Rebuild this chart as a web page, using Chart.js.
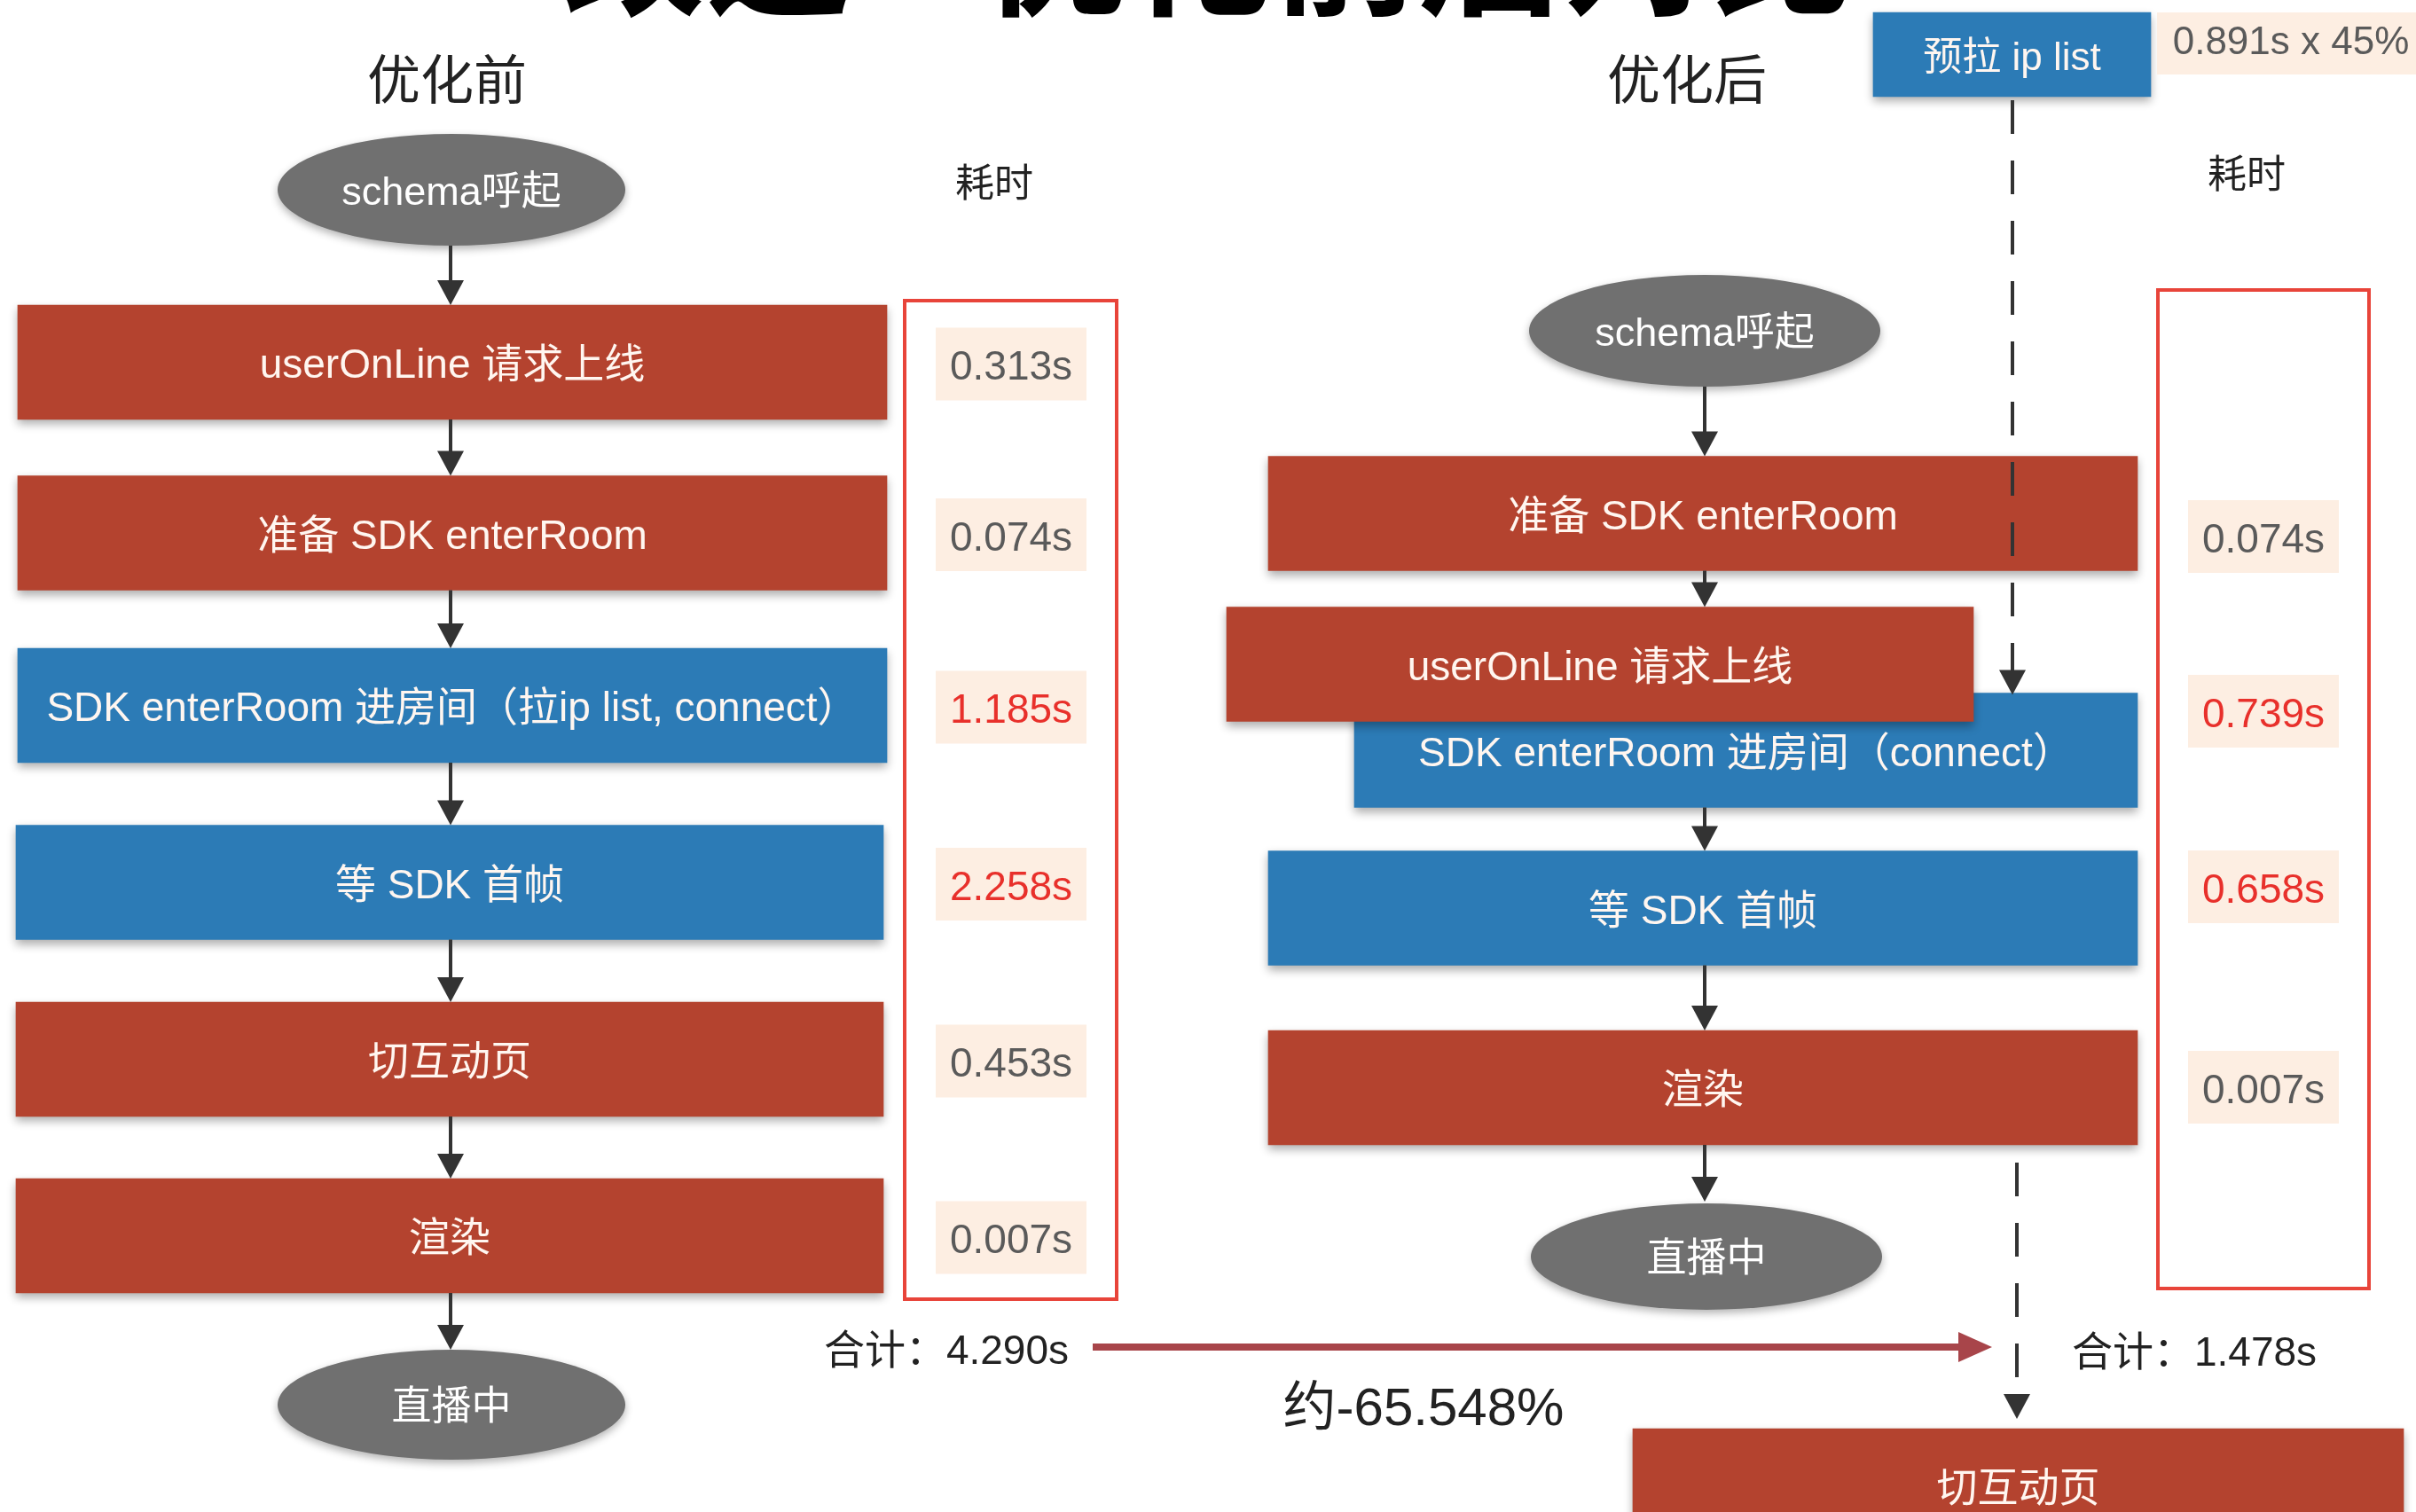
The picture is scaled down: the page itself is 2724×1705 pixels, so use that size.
<!DOCTYPE html>
<html><head><meta charset="utf-8">
<script src="https://cdn.jsdelivr.net/npm/chart.js@4.4.1/dist/chart.umd.min.js"></script>
<style>html,body{margin:0;padding:0;background:#fff;overflow:hidden}canvas{display:block}</style>
</head><body>
<canvas id="c" width="2724" height="1705" style="width:2724px;height:1705px"></canvas>
<script>
// ---------------- data ----------------
const pageTitle = '改造—优化前后对比';
const panelTitles = ['优化前', '优化后'];
const costHeader = '耗时';
const startLabel = 'schema呼起';
const endLabel = '直播中';
const totalPrefix = '合计：';
const changePrefix = '约';

const beforeSteps = ['userOnLine 请求上线', '准备 SDK enterRoom', 'SDK enterRoom 进房间（拉ip list, connect）', '等 SDK 首帧', '切互动页', '渲染'];
const beforeKinds = ['server', 'server', 'sdk', 'sdk', 'server', 'server'];
const beforeTimes = [0.313, 0.074, 1.185, 2.258, 0.453, 0.007];
const beforeHot = [false, false, true, true, false, false];
const beforeTotal = 4.290;

const afterSteps = ['准备 SDK enterRoom', 'userOnLine 请求上线', 'SDK enterRoom 进房间（connect）', '等 SDK 首帧', '渲染', '切互动页'];
const afterKinds = ['server', 'server', 'sdk', 'sdk', 'server', 'server'];
const afterTimes = [0.074, 0.739, 0.658, 0.007];
const afterHot = [false, true, true, false];
const afterTotal = 1.478;

const preloadStep = '预拉 ip list';
const preloadTime = 0.891;
const preloadShare = 45;
const changePct = -65.548;

// ---------------- layout (scale units, 1 unit = 1 px) ----------------
const W = 2724, H = 1705;
const BOX_H = 129;
const leftBoxX = [[20, 1000], [20, 1000], [20, 1000], [18, 996], [18, 996], [18, 996]];
const leftBoxY = [408.5, 601, 795.5, 995, 1194.5, 1393.5];
const rightBoxX = [[1430, 2410], [1383, 2225], [1527, 2410], [1430, 2410], [1430, 2410], [1841, 2710]];
const rightBoxY = [579, 749, 846, 1024, 1226.5, 1675.5];
const rightDrawOrder = [5, 4, 3, 0, 2, 1]; // later = on top
const preloadBox = { x: [2112, 2425], y: 61.5, h: 95 };

const COLORS = {
  server: '#b4432f', sdk: '#2c7bb6', node: '#707070', text: '#222222',
  boxText: '#fff6f0', value: '#5a5a5a', hot: '#e8302b', frame: '#e8443a',
  valueBg: '#fdeee2', arrow: '#333333', bigArrow: '#a8454a'
};
const FONT = '"Liberation Sans", "Noto Sans CJK SC", sans-serif';
const TEXT_DY = 5;

// ---------------- datasets ----------------
const leftData = beforeSteps.map((s, i) => ({ x: leftBoxX[i], y: leftBoxY[i] }));
const rightData = rightDrawOrder.map(i => ({ x: rightBoxX[i], y: rightBoxY[i] }));

const datasets = [
  { label: preloadStep, data: [{ x: preloadBox.x, y: preloadBox.y }], backgroundColor: COLORS.sdk, barThickness: preloadBox.h, steps: [preloadStep] },
  { label: '优化后', data: rightData, backgroundColor: rightDrawOrder.map(i => COLORS[afterKinds[i]]), barThickness: BOX_H, steps: rightDrawOrder.map(i => afterSteps[i]) },
  { label: '优化前', data: leftData, backgroundColor: beforeKinds.map(k => COLORS[k]), barThickness: BOX_H, steps: beforeSteps }
];

// ---------------- drawing helpers ----------------
function text(ctx, s, x, y, size, color, align, weight) {
  ctx.save();
  ctx.font = (weight || 'normal') + ' ' + size + 'px ' + FONT;
  ctx.fillStyle = color;
  ctx.textAlign = align || 'center';
  ctx.textBaseline = 'middle';
  ctx.fillText(s, x, y + TEXT_DY);
  ctx.restore();
}
function vArrow(ctx, x, y0, y1, dashed) {
  const head = 28, hw = 15;
  ctx.save();
  ctx.strokeStyle = COLORS.arrow; ctx.fillStyle = COLORS.arrow; ctx.lineWidth = 4;
  if (dashed) ctx.setLineDash([38, 30]);
  ctx.beginPath(); ctx.moveTo(x, y0); ctx.lineTo(x, y1 - head + 2); ctx.stroke();
  ctx.setLineDash([]);
  ctx.beginPath(); ctx.moveTo(x - hw, y1 - head); ctx.lineTo(x + hw, y1 - head); ctx.lineTo(x, y1); ctx.closePath(); ctx.fill();
  ctx.restore();
}
function ellipse(ctx, cx, cy, rx, ry, label) {
  ctx.save();
  ctx.shadowColor = 'rgba(0,0,0,0.30)'; ctx.shadowBlur = 10; ctx.shadowOffsetY = 4;
  ctx.fillStyle = COLORS.node;
  ctx.beginPath(); ctx.ellipse(cx, cy, rx, ry, 0, 0, Math.PI * 2); ctx.fill();
  ctx.restore();
  text(ctx, label, cx, cy, 45, '#ffffff');
}
function valueTag(ctx, s, cx, cy, hot) {
  ctx.save();
  ctx.fillStyle = COLORS.valueBg;
  ctx.fillRect(cx - 85, cy - 41, 170, 82);
  ctx.restore();
  text(ctx, s, cx, cy, 46, hot ? COLORS.hot : COLORS.value);
}
const fmt = v => v.toFixed(3) + 's';

const flowPlugin = {
  id: 'flow',
  beforeDatasetDraw(chart) {
    const ctx = chart.ctx;
    ctx.save();
    ctx.shadowColor = 'rgba(0,0,0,0.33)'; ctx.shadowBlur = 10; ctx.shadowOffsetY = 5;
  },
  afterDatasetDraw(chart) { chart.ctx.restore(); },
  afterDatasetsDraw(chart) {
    const ctx = chart.ctx;
    const sx = v => chart.scales.x.getPixelForValue(v);
    const sy = v => chart.scales.y.getPixelForValue(v);

    // labels inside bars
    chart.data.datasets.forEach((ds, di) => {
      const meta = chart.getDatasetMeta(di);
      meta.data.forEach((el, j) => {
        const p = el.getProps(['x', 'y', 'base'], true);
        text(ctx, ds.steps[j], (p.x + p.base) / 2, p.y, di === 0 ? 44 : 46, COLORS.boxText);
      });
    });

    // ---- left panel ----
    const lx = sx(508);
    text(ctx, panelTitles[0], sx(504), sy(90), 60, COLORS.text);
    ellipse(ctx, sx(509), sy(214), 196, 63, startLabel);
    vArrow(ctx, lx, sy(277), sy(leftBoxY[0] - BOX_H / 2));
    for (let i = 0; i < leftBoxY.length - 1; i++) {
      vArrow(ctx, lx, sy(leftBoxY[i] + BOX_H / 2), sy(leftBoxY[i + 1] - BOX_H / 2));
    }
    vArrow(ctx, lx, sy(leftBoxY[5] + BOX_H / 2), sy(1522));
    ellipse(ctx, sx(509), sy(1584), 196, 62, endLabel);

    text(ctx, costHeader, sx(1121), sy(205), 44, COLORS.text);
    ctx.save(); ctx.strokeStyle = COLORS.frame; ctx.lineWidth = 4;
    ctx.strokeRect(sx(1020), sy(339), sx(1259) - sx(1020), sy(1465) - sy(339)); ctx.restore();
    beforeTimes.forEach((v, i) => valueTag(ctx, fmt(v), sx(1140), sy(leftBoxY[i] + 2), beforeHot[i]));
    text(ctx, totalPrefix + beforeTotal.toFixed(3) + 's', sx(1205), sy(1520), 46, COLORS.text, 'right');

    // ---- right panel ----
    const rx = sx(1922);
    text(ctx, panelTitles[1], sx(1902), sy(90), 60, COLORS.text);
    ellipse(ctx, sx(1922), sy(373), 198, 63, startLabel);
    vArrow(ctx, rx, sy(436), sy(rightBoxY[0] - BOX_H / 2));
    vArrow(ctx, rx, sy(rightBoxY[0] + BOX_H / 2), sy(rightBoxY[1] - BOX_H / 2));
    vArrow(ctx, rx, sy(rightBoxY[2] + BOX_H / 2), sy(rightBoxY[3] - BOX_H / 2));
    vArrow(ctx, rx, sy(rightBoxY[3] + BOX_H / 2), sy(rightBoxY[4] - BOX_H / 2));
    vArrow(ctx, rx, sy(rightBoxY[4] + BOX_H / 2), sy(1355));
    ellipse(ctx, sx(1924), sy(1417), 198, 60, endLabel);

    // preload branch (dashed)
    vArrow(ctx, sx(2269), sy(preloadBox.y + preloadBox.h / 2 + 4), sy(rightBoxY[2] - BOX_H / 2 + 2), true);
    vArrow(ctx, sx(2274), sy(1311), sy(1600), true);
    ctx.save(); ctx.fillStyle = COLORS.valueBg; ctx.fillRect(sx(2432), sy(14), sx(2724) - sx(2432), sy(84) - sy(14)); ctx.restore();
    text(ctx, preloadTime.toFixed(3) + 's x ' + preloadShare + '%', sx(2583), sy(44), 44, COLORS.value);

    text(ctx, costHeader, sx(2533), sy(195), 44, COLORS.text);
    ctx.save(); ctx.strokeStyle = COLORS.frame; ctx.lineWidth = 4;
    ctx.strokeRect(sx(2433), sy(327), sx(2671) - sx(2433), sy(1453) - sy(327)); ctx.restore();
    const afterValueY = [605, 802, 1000, 1226];
    afterTimes.forEach((v, i) => valueTag(ctx, fmt(v), sx(2552), sy(afterValueY[i]), afterHot[i]));
    text(ctx, totalPrefix + afterTotal.toFixed(3) + 's', sx(2336), sy(1522), 46, COLORS.text, 'left');

    // comparison arrow
    ctx.save();
    ctx.strokeStyle = COLORS.bigArrow; ctx.fillStyle = COLORS.bigArrow; ctx.lineWidth = 8;
    ctx.beginPath(); ctx.moveTo(sx(1232), sy(1519)); ctx.lineTo(sx(2212), sy(1519)); ctx.stroke();
    ctx.beginPath(); ctx.moveTo(sx(2208), sy(1519) - 17); ctx.lineTo(sx(2246), sy(1519)); ctx.lineTo(sx(2208), sy(1519) + 17); ctx.closePath(); ctx.fill();
    ctx.restore();
    text(ctx, changePrefix + changePct.toFixed(3) + '%', sx(1605), sy(1585), 60, COLORS.text);

    // clipped slide title at top
    ctx.save();
    ctx.font = 'bold 164px "Noto Sans CJK SC", sans-serif';
    ctx.fillStyle = '#000';
    ctx.textAlign = 'left';
    ctx.textBaseline = 'ideographic';
    ctx.fillText(pageTitle, sx(630), sy(24));
    ctx.restore();
  }
};

new Chart(document.getElementById('c'), {
  type: 'bar',
  data: { datasets },
  options: {
    indexAxis: 'y',
    responsive: false,
    animation: false,
    devicePixelRatio: 1,
    layout: { padding: 0 },
    datasets: { bar: { grouped: false, borderWidth: 0, borderSkipped: false } },
    scales: {
      x: { type: 'linear', min: 0, max: W, display: false, offset: false, bounds: 'data', grid: { offset: false } },
      y: { type: 'linear', min: 0, max: H, reverse: true, display: false, offset: false, bounds: 'data', grid: { offset: false } }
    },
    plugins: { legend: { display: false }, tooltip: { enabled: false }, title: { display: false } }
  },
  plugins: [flowPlugin]
});
</script>
</body></html>
